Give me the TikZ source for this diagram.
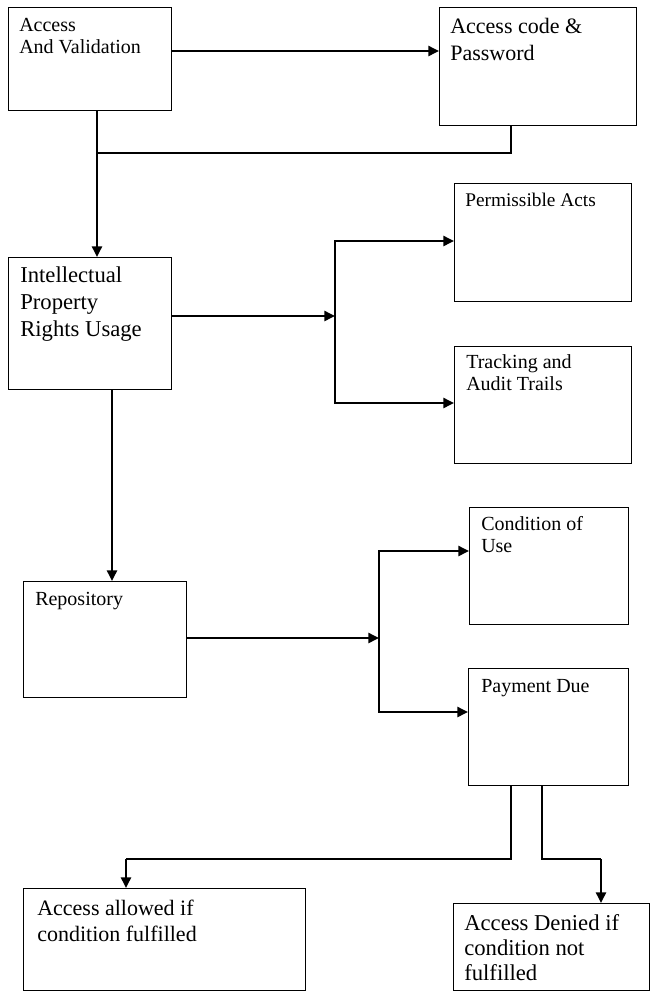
\documentclass[tikz,border=0pt]{standalone}
\usepackage{fontspec}
\setmainfont{Liberation Serif}
\usetikzlibrary{arrows.meta}
\begin{document}
\begin{tikzpicture}[x=0.75pt,y=-0.75pt,
  box/.style={draw, line width=1pt, inner sep=0pt, anchor=north west},
  % labels are anchored on the baseline of their last line
  lbl/.style={anchor=base west, align=left, inner sep=0pt},
  arr/.style={line width=1.8pt, -{Triangle[length=8pt,width=7.5pt]}},
  thin/.style={line width=1pt}]
\useasboundingbox (0,0) rectangle (651,992);

% boxes
\node[box, minimum width=122.25pt, minimum height=77.25pt] (A) at (8,7) {};
\node[box, minimum width=147.75pt, minimum height=88.5pt]  (B) at (439,7) {};
\node[box, minimum width=132.75pt, minimum height=88.5pt]  (P) at (454,183) {};
\node[box, minimum width=122.25pt, minimum height=99pt]    (I) at (8,257) {};
\node[box, minimum width=132.75pt, minimum height=87.75pt] (T) at (454,346) {};
\node[box, minimum width=122.25pt, minimum height=87pt]    (R) at (23,581) {};
\node[box, minimum width=119.25pt, minimum height=87.75pt] (C) at (469,507) {};
\node[box, minimum width=120pt,    minimum height=87.75pt] (D) at (468,668) {};
\node[box, minimum width=211.5pt,  minimum height=76.5pt]  (L) at (23,888) {};
\node[box, minimum width=147pt,    minimum height=65.25pt] (N) at (453,903) {};

% labels
\node[lbl, font=\fontsize{15}{16}\selectfont] at ([shift={(11,46.3)}]A.north west) {Access\\And Validation};
\node[lbl, font=\fontsize{16.5}{20}\selectfont] at ([shift={(11,53)}]B.north west) {Access code \&\\Password};
\node[lbl, font=\fontsize{14.5}{17}\selectfont] at ([shift={(11,23)}]P.north west) {Permissible Acts};
\node[lbl, font=\fontsize{17}{20}\selectfont] at ([shift={(12,79.3)}]I.north west) {Intellectual\\Property\\Rights Usage};
\node[lbl, font=\fontsize{15}{17}\selectfont] at ([shift={(12,44.7)}]T.north west) {Tracking and\\Audit Trails};
\node[lbl, font=\fontsize{15}{17}\selectfont] at ([shift={(12,24)}]R.north west) {Repository};
\node[lbl, font=\fontsize{15}{16.5}\selectfont] at ([shift={(12,45)}]C.north west) {Condition of\\Use};
\node[lbl, font=\fontsize{15}{17}\selectfont] at ([shift={(13,24)}]D.north west) {Payment Due};
\node[lbl, font=\fontsize{16.5}{19.5}\selectfont] at ([shift={(14,53)}]L.north west) {Access allowed if\\condition fulfilled};
\node[lbl, font=\fontsize{17}{19}\selectfont] at ([shift={(11,77.7)}]N.north west) {Access Denied if\\condition not\\fulfilled};

% reference levels for the connectors
\coordinate (yAB) at (0,51);
\coordinate (xA)  at (97,0);
\coordinate (xB)  at (511,0);
\coordinate (jA)  at (97,153);
\coordinate (br1) at (335,316);
\coordinate (yP)  at (0,241);
\coordinate (yT)  at (0,403);
\coordinate (xI)  at (112,0);
\coordinate (br2) at (379,638);
\coordinate (yC)  at (0,551);
\coordinate (yD)  at (0,712);
\coordinate (yJ)  at (0,859);
\coordinate (xL)  at (126,0);
\coordinate (xD1) at (511,0);
\coordinate (xD2) at (542,0);
\coordinate (xN)  at (601,0);

% connectors
\draw[arr] (A.east |- yAB) -- (B.west |- yAB);
\draw[arr] (A.south -| xA) -- (I.north -| xA);
\draw[thin] (B.south -| xB) |- (jA);

\draw[arr] (I.east |- br1) -- (br1);
\draw[arr] (br1 |- yT) |- (P.west |- yP);
\draw[arr] (br1 |- yP) |- (T.west |- yT);

\draw[arr] (I.south -| xI) -- (R.north -| xI);

\draw[arr] (R.east |- br2) -- (br2);
\draw[arr] (br2 |- yD) |- (C.west |- yC);
\draw[arr] (br2 |- yC) |- (D.west |- yD);

\draw[thin] (D.south -| xD1) |- (xL |- yJ);
\draw[arr] (xL |- yJ) -- (L.north -| xL);
\draw[thin] (D.south -| xD2) |- (xN |- yJ);
\draw[arr] (xN |- yJ) -- (N.north -| xN);
\end{tikzpicture}
\end{document}
